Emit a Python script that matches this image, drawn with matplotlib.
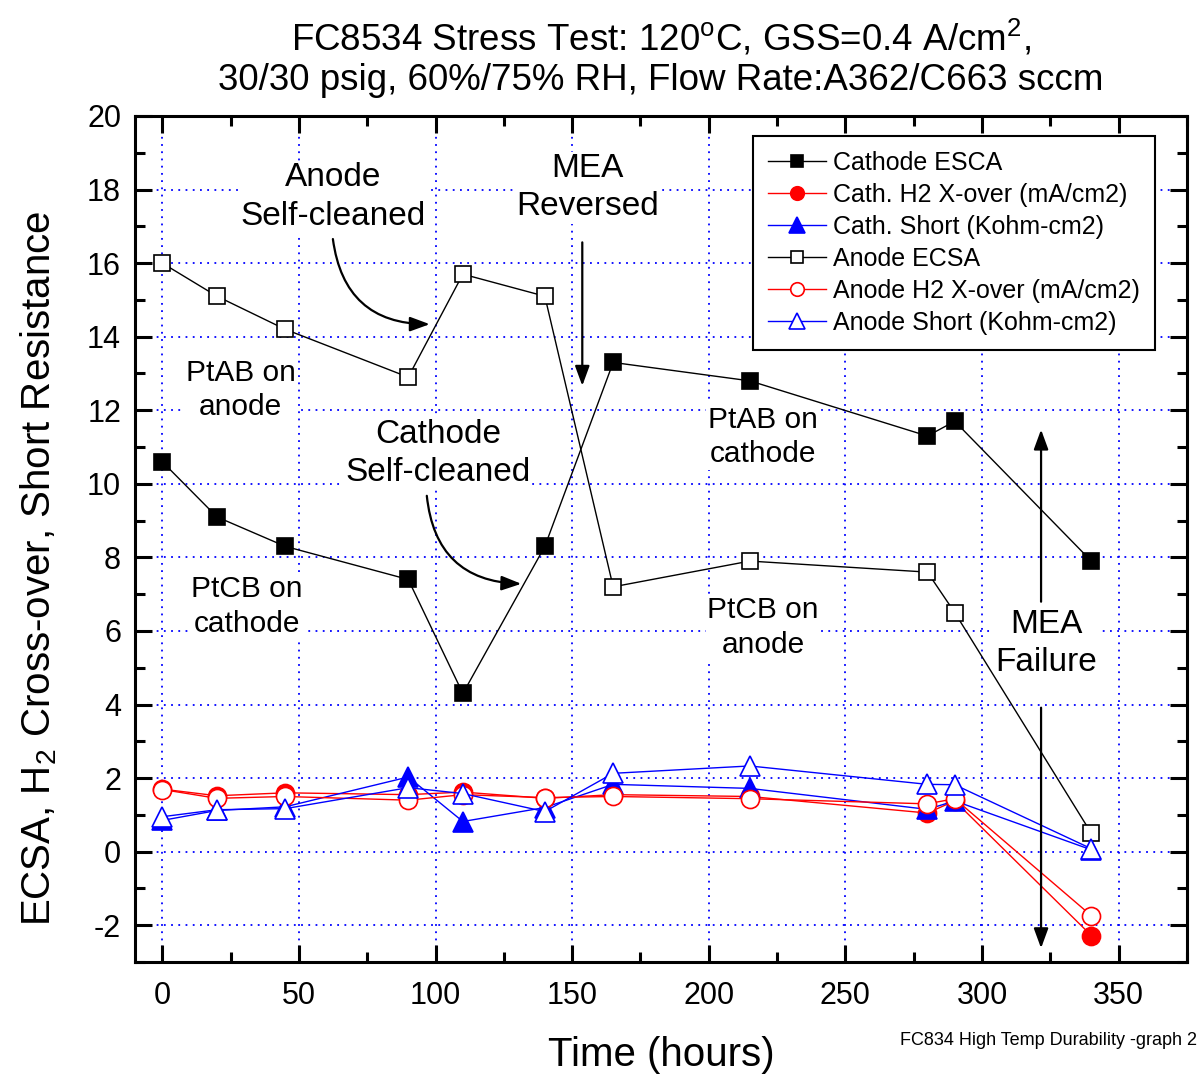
import matplotlib
matplotlib.use("Agg")
import matplotlib.pyplot as plt
from matplotlib.patches import FancyArrowPatch
from matplotlib.ticker import MultipleLocator

plt.rcParams['font.family'] = ['Liberation Sans', 'DejaVu Sans']
plt.rcParams['mathtext.fontset'] = 'custom'
plt.rcParams['mathtext.rm'] = 'Liberation Sans'
plt.rcParams['axes.unicode_minus'] = False

# time points (hours)
hours = [0, 20, 45, 90, 110, 140, 165, 215, 280, 290, 340]

cath_ecsa = [10.6, 9.1, 8.3, 7.4, 4.3, 8.3, 13.3, 12.8, 11.3, 11.7, 7.9]
cath_h2 = [1.70, 1.52, 1.60, 1.55, 1.62, 1.45, 1.55, 1.50, 1.05, 1.38, -2.28]
cath_short = [0.85, 1.12, 1.22, 2.03, 0.82, 1.20, 1.83, 1.72, 1.15, 1.38, 0.05]
anode_ecsa = [16.0, 15.1, 14.2, 12.9, 15.7, 15.1, 7.2, 7.9, 7.6, 6.5, 0.5]
anode_h2 = [1.69, 1.45, 1.50, 1.40, 1.55, 1.47, 1.50, 1.44, 1.30, 1.44, -1.74]
anode_short = [0.95, 1.14, 1.17, 1.74, 1.58, 1.09, 2.13, 2.33, 1.83, 1.82, 0.08]

labels = ['Cathode ESCA', 'Cath. H2 X-over (mA/cm2)', 'Cath. Short (Kohm-cm2)',
          'Anode ECSA', 'Anode H2 X-over (mA/cm2)', 'Anode Short (Kohm-cm2)']

fig = plt.figure(figsize=(12.02, 10.75), dpi=100)
ax = fig.add_axes([0.1123, 0.1051, 0.8752, 0.7870])

line_kw = dict(lw=1.0, mew=1.2)
ax.plot(hours, cath_ecsa, '-s', color='black', mfc='black', mec='black', ms=12, label=labels[0], **line_kw)
ax.plot(hours, cath_h2, '-o', color='red', mfc='red', mec='red', ms=13, label=labels[1], **line_kw)
ax.plot(hours, cath_short, '-^', color='blue', mfc='blue', mec='blue', ms=15, label=labels[2], **line_kw)
ax.plot(hours, anode_ecsa, '-s', color='black', mfc='white', mec='black', ms=12, label=labels[3], **line_kw)
ax.plot(hours, anode_h2, '-o', color='red', mfc='white', mec='red', ms=13, label=labels[4], **line_kw)
ax.plot(hours, anode_short, '-^', color='blue', mfc='white', mec='blue', ms=15, label=labels[5], **line_kw)

ax.set_xlim(-10, 375)
ax.set_ylim(-3, 20)
ax.xaxis.set_major_locator(MultipleLocator(50))
ax.xaxis.set_minor_locator(MultipleLocator(25))
ax.yaxis.set_major_locator(MultipleLocator(2))
ax.yaxis.set_minor_locator(MultipleLocator(1))
ax.tick_params(which='both', direction='in', top=True, right=True, width=2.2)
ax.tick_params(which='major', length=12, labelsize=22)
ax.tick_params(axis='x', which='major', pad=14)
ax.tick_params(axis='y', which='major', pad=10)
ax.tick_params(which='minor', length=7)
for sp in ax.spines.values():
    sp.set_linewidth(2.2)

ax.set_axisbelow(True)
ax.grid(True, which='major', color='blue', linestyle=(0, (1, 3)), lw=1.3)

ax.set_title('FC8534 Stress Test: 120$^\\mathregular{o}$C, GSS=0.4 A/cm$^\\mathregular{2}$,\n'
             '30/30 psig, 60%/75% RH, Flow Rate:A362/C663 sccm',
             fontsize=26.5, pad=19, linespacing=1.15)
ax.set_xlabel('Time (hours)', fontsize=29)
ax.set_ylabel('ECSA, H$_\\mathregular{2}$ Cross-over, Short Resistance', fontsize=29)
ax.xaxis.set_label_coords(0.5, -0.088)
ax.yaxis.set_label_coords(-0.072, 0.465)

leg = ax.legend(loc='upper right', bbox_to_anchor=(0.9696, 0.9764), borderaxespad=0,
                fontsize=18, fancybox=False, framealpha=1, edgecolor='black',
                handlelength=2.3, handletextpad=0.3, labelspacing=0.32,
                borderpad=0.6, markerscale=0.75)
leg.get_frame().set_linewidth(1.5)

bb = dict(facecolor='white', edgecolor='none', pad=1)
notes = [
    (62.6, 17.8, 'Anode\nSelf-cleaned', 24),
    (155.7, 18.05, 'MEA\nReversed', 24),
    (28.6, 12.55, 'PtAB on\nanode', 21.5),
    (101, 10.83, 'Cathode\nSelf-cleaned', 24),
    (31, 6.67, 'PtCB on\ncathode', 21.5),
    (219.8, 11.27, 'PtAB on\ncathode', 21.5),
    (219.8, 6.1, 'PtCB on\nanode', 21.5),
    (323.4, 5.65, 'MEA\nFailure', 24),
]
for x, y, txt, fs in notes:
    ax.text(x, y, txt, ha='center', va='center', fontsize=fs, linespacing=1.3,
            bbox=bb, zorder=1.5)

arrows = [
    ((62.3, 16.73), (98.9, 14.34), 'arc3,rad=0.45'),
    ((96.7, 9.75), (132.4, 7.28), 'arc3,rad=0.45'),
    ((153.7, 16.64), (153.7, 12.59), 'arc3,rad=0'),
    ((321.6, 6.72), (321.6, 11.55), 'arc3,rad=0'),
    ((321.6, 3.99), (321.6, -2.7), 'arc3,rad=0'),
]
for start, end, cs in arrows:
    ax.add_patch(FancyArrowPatch(start, end, connectionstyle=cs,
                                 arrowstyle='-|>,head_length=0.6,head_width=0.22',
                                 mutation_scale=20, lw=1.6, color='black', zorder=4))

fig.text(0.996, 0.032, 'FC834 High Temp Durability -graph 2', ha='right', va='center', fontsize=13)

fig.savefig('out.png', dpi=100)
